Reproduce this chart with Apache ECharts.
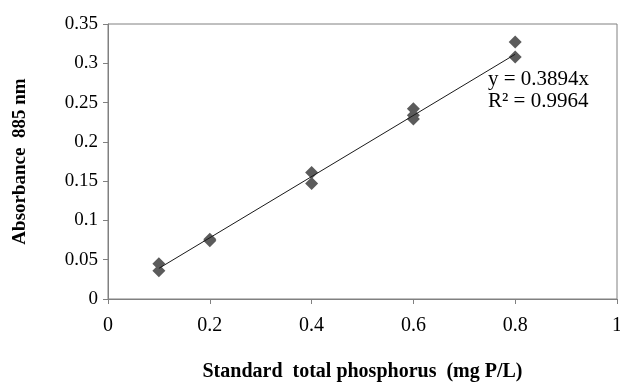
<!DOCTYPE html>
<html>
<head>
<meta charset="utf-8">
<script src="https://cdn.jsdelivr.net/npm/echarts@6/dist/echarts.min.js"></script>
<style>
  html, body { margin: 0; padding: 0; background: #fff; }
  #chart { width: 620px; height: 385px; }
</style>
</head>
<body>
<div id="chart"></div>
<script>
// measured standards (mg P/L) and absorbance readings
var concentration = [0.1, 0.1, 0.2, 0.2, 0.4, 0.4, 0.6, 0.6, 0.6, 0.8, 0.8];
var absorbance = [0.045, 0.036, 0.076, 0.074, 0.161, 0.147, 0.242, 0.234, 0.229, 0.327, 0.308];

// linear trendline y = 0.3894x, drawn from 0.1 to 0.8
var trendX = [0.1, 0.8];
var trendY = [0.039, 0.3115];

var equationText = 'y = 0.3894x';
var r2Text = 'R² = 0.9964';

var serif = '"Liberation Serif", "DejaVu Serif", serif';

var points = concentration.map(function (x, i) { return [x, absorbance[i]]; });
var trend = trendX.map(function (x, i) { return [x, trendY[i]]; });

var chart = echarts.init(document.getElementById('chart'));

chart.setOption({
	animation: false,
	backgroundColor: '#ffffff',
	grid: {
		left: 108, right: 3, top: 24, bottom: 86,
		containLabel: false, outerBoundsMode: 'none',
		show: true, borderColor: '#808080', borderWidth: 1
	},
	xAxis: {
		type: 'value', min: 0, max: 1, interval: 0.2,
		name: 'Standard  total phosphorus  (mg P/L)',
		nameLocation: 'middle', nameGap: 63,
		nameTextStyle: { fontFamily: serif, fontSize: 20, fontWeight: 'bold', color: '#000' },
		axisLine: { lineStyle: { color: '#808080' } },
		axisTick: { show: true, length: 5, lineStyle: { color: '#808080' } },
		axisLabel: { fontFamily: serif, fontSize: 20, color: '#000', margin: 17 },
		splitLine: { show: false }
	},
	yAxis: {
		type: 'value', min: 0, max: 0.35, interval: 0.05,
		name: 'Absorbance  885 nm',
		nameLocation: 'middle', nameGap: 78,
		nameTextStyle: { fontFamily: serif, fontSize: 19, fontWeight: 'bold', color: '#000' },
		axisLine: { show: true, lineStyle: { color: '#808080' } },
		axisTick: { show: true, length: 5, lineStyle: { color: '#808080' } },
		axisLabel: { fontFamily: serif, fontSize: 19, color: '#000', margin: 10 },
		splitLine: { show: false }
	},
	graphic: [
		{ type: 'text', left: 488, top: 69, style: { text: equationText, font: '21px ' + serif, fill: '#000' } },
		{ type: 'text', left: 488, top: 91, style: { text: r2Text, font: '21px ' + serif, fill: '#000' } }
	],
	series: [
		{
			type: 'scatter',
			data: points,
			symbol: 'diamond',
			symbolSize: 13,
			itemStyle: { color: '#5b5b5b', opacity: 1 },
			z: 2
		},
		{
			type: 'line',
			data: trend,
			symbol: 'none',
			lineStyle: { color: '#1a1a1a', width: 1 },
			z: 3
		}
	]
});
</script>
</body>
</html>
